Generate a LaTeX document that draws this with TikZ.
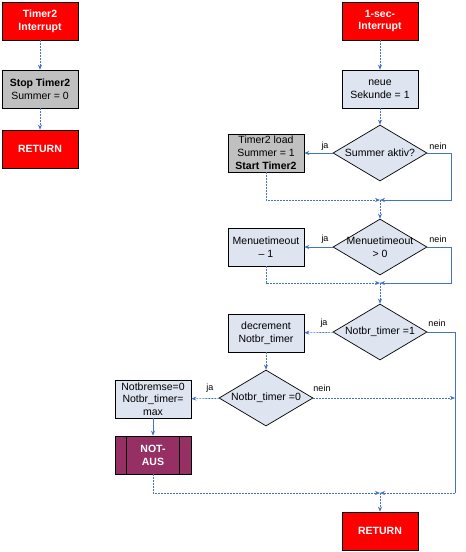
\documentclass[tikz,border=0pt]{standalone}
\usepackage{fontspec}
\setmainfont{Liberation Sans}
\usepackage{tikz}
\usetikzlibrary{arrows.meta,positioning,shapes.geometric}
\definecolor{redbox}{RGB}{255,0,0}
\definecolor{graybox}{RGB}{192,192,192}
\definecolor{procfill}{RGB}{222,228,240}
\definecolor{auscol}{RGB}{150,48,100}
\definecolor{flowblue}{RGB}{68,114,196}
\tikzset{
    box/.style={draw, line width=0.7pt, minimum width=76pt, minimum height=38pt, inner sep=1pt, align=center, font=\fontsize{10.5}{12.8}\selectfont},
    startbox/.style={box, fill=redbox, text=white, font=\fontsize{10.5}{12.8}\selectfont\bfseries},
    graybx/.style={box, fill=graybox},
    procbox/.style={box, fill=procfill},
    ausbox/.style={box, fill=auscol, text=white, font=\fontsize{10.5}{12.8}\selectfont\bfseries},
    decision/.style={diamond, draw, line width=0.7pt, fill=procfill, minimum width=94pt, minimum height=56pt, inner sep=0pt, aspect=1.68},
    dtext/.style={align=center, font=\fontsize{10.5}{12.8}\selectfont},
    flow/.style={flowblue, line width=0.6pt, -{Stealth[length=5pt,width=4pt]}},
    dflow/.style={flow, dash pattern=on 2pt off 1pt},
    line/.style={flowblue, line width=0.6pt},
    dline/.style={line, dash pattern=on 2pt off 1pt},
    lbl/.style={font=\fontsize{9}{10}\selectfont, inner sep=0pt}
}
\begin{document}
\begin{tikzpicture}[x=1pt, y=-1pt]
    \useasboundingbox (0,0) rectangle (466,552);
    % Timer2 interrupt
    \node[startbox] (t2int) at (40,21) {Timer2\\Interrupt};
    \node[graybx] (t2stop) at (40,89) {\textbf{Stop Timer2}\\Summer = 0};
    \node[startbox] (t2ret) at (40,149) {RETURN};
    \draw[dflow] (t2int) -- (t2stop);
    \draw[dflow] (t2stop) -- (t2ret);
    % 1-sec interrupt
    \node[startbox] (secint) at (380,21) {1-sec-\\Interrupt};
    \node[procbox] (neuesek) at (380,89) {neue\\Sekunde = 1};
    \node[decision, label={[dtext]center:Summer aktiv?}] (summq) at (380,153) {};
    \node[graybx] (t2load) at (266,153) {Timer2 load\\Summer = 1\\\textbf{Start Timer2}};
    \node[decision, label={[dtext]center:Menuetimeout\\> 0}] (menq) at (380,247) {};
    \node[procbox] (mendec) at (266,247) {Menuetimeout\\– 1};
    \node[decision, label={[dtext]center:Notbr\_timer =1}] (notq1) at (380,332) {};
    \node[procbox] (notdec) at (266,333) {decrement\\Notbr\_timer};
    \node[decision, label={[dtext]center:Notbr\_timer =0}] (notq0) at (266,398) {};
    \node[procbox, font=\fontsize{10.5}{12.3}\selectfont] (notbr) at (153,399) {Notbremse=0\\Notbr\_timer=\\max};
    \node[ausbox] (notaus) at (153,455) {NOT-\\AUS};
    \draw[line width=0.7pt] ([xshift=12pt]notaus.north west) -- ([xshift=12pt]notaus.south west);
    \draw[line width=0.7pt] ([xshift=-12pt]notaus.north east) -- ([xshift=-12pt]notaus.south east);
    \node[startbox] (ret) at (380,531) {RETURN};
    \coordinate (m1) at (380,200);
    \coordinate (m1r) at (451,200);
    \coordinate (m2) at (380,283);
    \coordinate (m2r) at (451,283);
    \coordinate (m3) at (380,493);
    \coordinate (m3r) at (455,493);
    \coordinate (n0) at (455,398);
    \node[lbl] (ja1) at (325,146) {ja};
    \node[lbl] (nein1) at (438,146) {nein};
    \node[lbl] (ja2) at (325,239) {ja};
    \node[lbl] (nein2) at (438,239) {nein};
    \node[lbl] (ja3) at (324,323) {ja};
    \node[lbl] (nein3) at (437,323) {nein};
    \node[lbl] (ja4) at (210,388) {ja};
    \node[lbl] (nein4) at (322,388) {nein};
    \draw[dflow] (secint) -- (neuesek);
    \draw[dflow] (neuesek) -- (summq);
    \draw[flow] (summq) -- (t2load);
    \draw[flow] (summq.east) -| (m1r) -- (m1);
    \draw[dflow] (t2load) |- (m1);
    \draw[dflow] (m1) -- (menq);
    \draw[flow] (menq) -- (mendec);
    \draw[flow] (menq.east) -| (m2r) -- (m2);
    \draw[dflow] (mendec) |- (m2);
    \draw[dflow] (m2) -- (notq1);
    \draw[dflow] (notq1) -- (notdec);
    \draw[line] (notq1.east) -| (m3r);
    \draw[dflow] (m3r) -- (m3);
    \draw[dflow] (notdec) -- (notq0);
    \draw[dflow] (notq0) -- (notbr);
    \draw[dflow] (notq0.east) -- (n0);
    \draw[flow] (notbr) -- (notaus);
    \draw[dflow] (notaus) |- (m3);
    \draw[dflow] (m3) -- (ret);
\end{tikzpicture}
\end{document}
